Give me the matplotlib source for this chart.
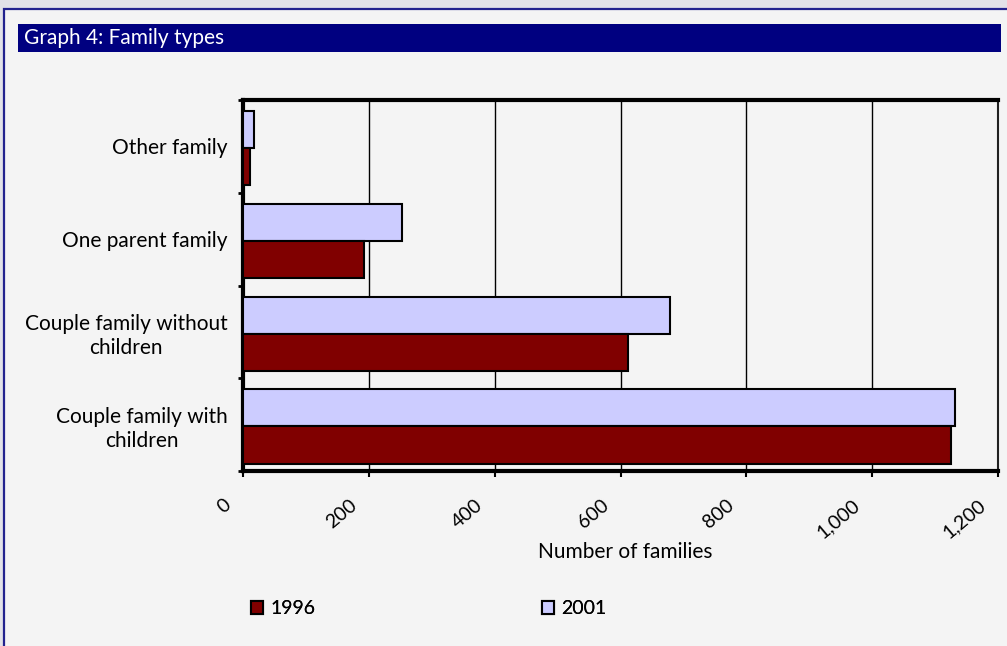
import matplotlib
matplotlib.use("Agg")
import matplotlib.pyplot as plt
import matplotlib.transforms as mtransforms
from matplotlib.patches import Rectangle, Patch
import numpy as np

categories = ["Couple family with\nchildren", "Couple family without\nchildren",
              "One parent family", "Other family"]
values_1996 = [1126, 612, 192, 11]
values_2001 = [1132, 678, 252, 17]
xticks = [0, 200, 400, 600, 800, 1000, 1200]
xtick_labels = ["0", "200", "400", "600", "800", "1,000", "1,200"]
series_names = ["1996", "2001"]
title = "Graph 4: Family types"
xlabel = "Number of families"

plt.rcParams['font.family'] = ['Lato', 'DejaVu Sans']
FS = 15

W, H = 1007, 646
fig = plt.figure(figsize=(W / 100, H / 100), dpi=100)
fig.patch.set_facecolor('#e2e2e8')

def fx(px):
    return px / W

def fy(py):
    return 1 - py / H

# panel with blue border
fig.patches.append(Rectangle((fx(4), -0.05), 1.1, fy(9) + 0.05, transform=fig.transFigure,
                             facecolor='#f4f4f4', edgecolor='#22228e', lw=1.6, zorder=-5))
# title bar
fig.patches.append(Rectangle((fx(18), fy(52)), fx(1001) - fx(18), fy(24) - fy(52),
                             transform=fig.transFigure, facecolor='#000080',
                             edgecolor='none', zorder=-4))
fig.text(fx(24), fy(38.5), title, color='white', fontsize=FS, va='center', ha='left')

ax = fig.add_axes([fx(243), fy(471), fx(998) - fx(243), fy(100) - fy(471)])
ax.set_facecolor('#f4f4f4')

y = np.arange(len(categories))
ax.barh(y + 0.18, values_2001, height=0.4, color='#ccccff', edgecolor='black', lw=1.5, zorder=3)
ax.barh(y - 0.22, values_1996, height=0.4, color='#800000', edgecolor='black', lw=1.5, zorder=3)

ax.set_xlim(0, 1200)
ax.set_ylim(-0.5, len(categories) - 0.5)

ax.set_xticks(xticks)
ax.tick_params(axis='x', direction='out', length=4.3, width=1.5, pad=14, colors='black')
ax.set_xticklabels(xtick_labels, rotation=40, ha='right', va='top', fontsize=FS - 1)

ax.set_yticks(y)
ax.tick_params(axis='y', which='major', length=0, pad=11)
ax.set_yticklabels(categories, fontsize=FS, multialignment='center', linespacing=1.25)
ax.set_yticks(np.arange(len(categories) + 1) - 0.5, minor=True)
ax.tick_params(axis='y', which='minor', direction='out', length=3.8, width=2)

ax.xaxis.grid(True, color='black', lw=1, zorder=1)
ax.set_axisbelow(True)

for side in ['left', 'top', 'bottom']:
    ax.spines[side].set_linewidth(3)
    ax.spines[side].set_color('black')
ax.spines['right'].set_linewidth(1.5)
ax.spines['right'].set_color('#202020')

# shift rotated x tick labels slightly left (after all tick_params calls)
offset = mtransforms.ScaledTranslation(-9 / 100, 0, fig.dpi_scale_trans)
for t in ax.xaxis.get_major_ticks():
    t.label1.set_transform(t.label1.get_transform() + offset)

fig.text(fx(625), fy(552), xlabel, fontsize=FS, ha='center', va='center')

# legend
h1 = Patch(facecolor='#800000', edgecolor='black', lw=1.5)
h2 = Patch(facecolor='#ccccff', edgecolor='black', lw=1.5)
for h, name, xpos in [(h1, series_names[0], 251), (h2, series_names[1], 542)]:
    leg = fig.legend([h], [name], loc='center left', bbox_to_anchor=(fx(xpos), fy(609)),
                     frameon=False, fontsize=FS - 1, handlelength=0.6, handleheight=0.6,
                     handletextpad=0.4, borderpad=0, borderaxespad=0)
    fig.add_artist(leg)

fig.savefig('out.png', dpi=100, facecolor=fig.get_facecolor())
